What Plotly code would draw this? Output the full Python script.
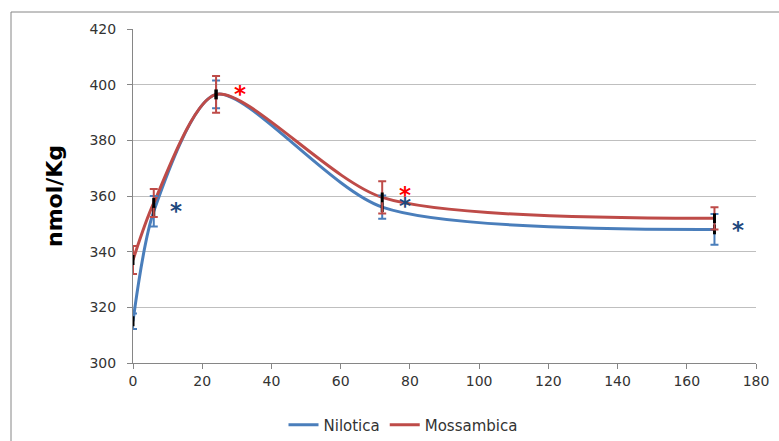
import plotly.graph_objects as go

hours = [0, 6, 24, 72, 168]
nilotica = [315, 354.5, 396.5, 356, 348]
nilotica_err = [2.8, 5.5, 5.0, 4.2, 5.5]
mossambica = [337, 357.5, 396.5, 359.5, 352]
mossambica_err = [5.0, 5.0, 6.6, 5.8, 4.0]

star_blue_x = [12.4, 78.6, 174.8]
star_blue_y = [353.8, 355.6, 347.0]
star_red_x = [30.9, 78.6]
star_red_y = [395.8, 359.6]

BLUE = "#4A7EBB"
RED = "#BE4B48"
FONT = "DejaVu Sans"

W, H = 779, 441
L, R, T, B = 133, 23, 29, 78
pw, ph = W - L - R, H - T - B

fig = go.Figure()
for name, ys, err, col in [("Nilotica", nilotica, nilotica_err, BLUE),
                           ("Mossambica", mossambica, mossambica_err, RED)]:
    fig.add_trace(go.Scatter(
        x=hours, y=ys, name=name, mode="lines",
        line=dict(color=col, width=3, shape="spline", smoothing=0.75),
        showlegend=True))
for name, ys, err, col in [("Nilotica", nilotica, nilotica_err, BLUE),
                           ("Mossambica", mossambica, mossambica_err, RED)]:
    fig.add_trace(go.Scatter(
        x=hours, y=ys, mode="markers", showlegend=False,
        marker=dict(symbol="line-ns-open", size=7, color="black",
                    line=dict(color="black", width=3)),
        error_y=dict(type="data", array=err, color=col, thickness=2, width=4)))

fig.add_trace(go.Scatter(x=star_blue_x, y=star_blue_y, mode="text", text=["<b>*</b>"] * 3,
                         textfont=dict(color="#1F497D", size=23, family=FONT),
                         showlegend=False, hoverinfo="skip"))
fig.add_trace(go.Scatter(x=star_red_x, y=star_red_y, mode="text", text=["<b>*</b>"] * 2,
                         textfont=dict(color="#FF0000", size=23, family=FONT),
                         showlegend=False, hoverinfo="skip"))

fig.add_shape(type="rect", xref="paper", yref="paper",
              x0=(11 - L) / pw, x1=(W + 20 - L) / pw,
              y0=(H - B - (H + 20)) / ph, y1=(H - B - 12) / ph,
              line=dict(color="#868686", width=1), layer="below")

fig.add_annotation(text="<b>nmol/Kg</b>", xref="paper", yref="paper",
                   x=(54 - L) / pw, y=0.5, textangle=-90, showarrow=False,
                   xanchor="center", yanchor="middle",
                   font=dict(family=FONT, size=22, color="black"))

fig.update_layout(
    width=W, height=H, margin=dict(l=L, r=R, t=T, b=B, autoexpand=False),
    paper_bgcolor="white", plot_bgcolor="white",
    font=dict(family=FONT, size=14, color="#333333"),
    xaxis=dict(range=[0, 180], tickvals=list(range(0, 181, 20)),
               showgrid=False, showline=True, linecolor="#868686", linewidth=1,
               ticks="outside", ticklen=5, tickcolor="#868686", zeroline=False),
    yaxis=dict(range=[300, 420], tickvals=list(range(300, 421, 20)),
               showgrid=True, gridcolor="#BFBFBF", gridwidth=1,
               showline=True, linecolor="#868686", linewidth=1,
               ticks="outside", ticklen=5, tickcolor="#868686", zeroline=False,
               ticklabelstandoff=8),
    legend=dict(orientation="h", x=(403 - L) / pw, xanchor="center",
                y=(H - B - 425) / ph, yanchor="middle",
                font=dict(family=FONT, size=15, color="#333333")),
    showlegend=True,
)

fig.write_html("out.html")
